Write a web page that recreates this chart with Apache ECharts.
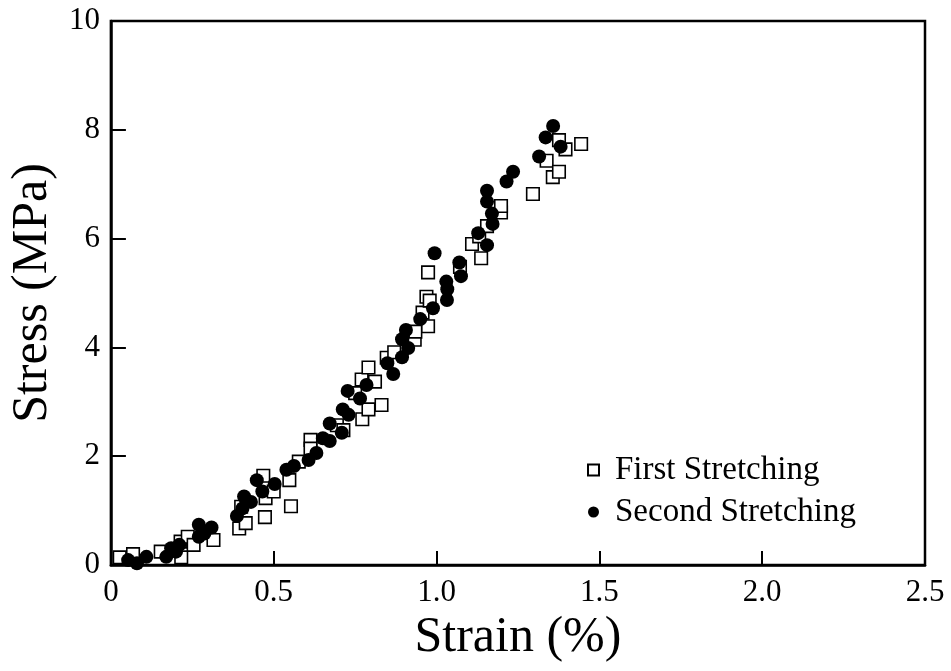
<!DOCTYPE html>
<html>
<head>
<meta charset="utf-8">
<script src="https://cdn.jsdelivr.net/npm/echarts@6/dist/echarts.min.js"></script>
<style>
  html, body { margin: 0; padding: 0; background: #fff; }
  #chart { width: 951px; height: 671px; }
</style>
</head>
<body>
<div id="chart"></div>
<script>
// Stress–strain points, [strain (%), stress (MPa)]
const firstStretching = [
  [0.027,0.14],[0.068,0.20],[0.153,0.245],[0.216,0.14],[0.214,0.43],[0.236,0.52],
  [0.254,0.37],[0.315,0.46],[0.394,0.67],[0.414,0.77],[0.400,1.07],[0.468,1.64],
  [0.473,0.88],[0.475,1.23],[0.500,1.35],[0.548,1.56],[0.553,1.08],[0.577,1.90],
  [0.613,2.30],[0.613,2.14],[0.694,2.57],[0.714,2.48],[0.750,3.16],[0.772,2.68],
  [0.770,3.41],[0.791,2.86],[0.791,3.63],[0.811,3.37],[0.831,2.94],[0.847,3.81],
  [0.870,3.91],[0.933,4.14],[0.935,4.29],[0.957,4.64],[0.969,4.93],[0.974,4.39],
  [0.974,5.38],[0.979,4.86],[1.072,5.48],[1.109,5.90],[1.131,6.04],[1.137,5.64],
  [1.155,6.23],[1.198,6.48],[1.198,6.60],[1.296,6.82],[1.338,7.43],[1.357,7.13],
  [1.376,7.23],[1.376,7.81],[1.396,7.64],[1.444,7.74]
];
const secondStretching = [
  [0.053,0.09],[0.080,0.03],[0.109,0.15],[0.170,0.15],[0.185,0.31],[0.200,0.245],
  [0.210,0.37],[0.270,0.74],[0.270,0.52],[0.287,0.58],[0.309,0.69],[0.387,0.90],
  [0.404,1.04],[0.409,1.26],[0.430,1.16],[0.448,1.56],[0.465,1.35],[0.503,1.49],
  [0.539,1.75],[0.562,1.82],[0.607,1.93],[0.631,2.06],[0.651,2.33],[0.672,2.60],
  [0.672,2.28],[0.709,2.43],[0.712,2.86],[0.727,3.20],[0.730,2.76],[0.765,3.06],
  [0.785,3.31],[0.849,3.71],[0.867,3.51],[0.894,3.82],[0.894,4.15],[0.906,4.32],
  [0.913,3.99],[0.950,4.52],[0.989,4.72],[0.994,5.73],[1.030,5.21],[1.033,5.07],
  [1.032,4.87],[1.070,5.56],[1.075,5.31],[1.128,6.10],[1.155,5.88],[1.172,6.27],
  [1.170,6.46],[1.155,6.68],[1.155,6.88],[1.215,7.05],[1.235,7.23],[1.315,7.51],
  [1.335,7.86],[1.358,8.07],[1.381,7.69]
];
const seriesNames = ['First Stretching', 'Second Stretching'];
const xTicks = { min: 0, max: 2.5, step: 0.5 };
const yTicks = { min: 0, max: 10, step: 2 };

const serif = '"Liberation Serif", "Times New Roman", serif';
const chart = echarts.init(document.getElementById('chart'));

chart.setOption({
  backgroundColor: '#fff',
  animation: false,
  textStyle: { fontFamily: serif, color: '#000' },
  grid: {
    left: 106, right: 26, top: 21, bottom: 106,
    show: true, borderColor: '#000', borderWidth: 2.5, backgroundColor: 'transparent'
  },
  legend: {
    orient: 'vertical',
    left: 582, top: 448,
    itemWidth: 11, itemHeight: 11,
    itemGap: 8,
    textStyle: { fontFamily: serif, fontSize: 33, color: '#000', lineHeight: 34, padding: [0, 0, 0, 11] },
    data: seriesNames
  },
  xAxis: {
    type: 'value',
    min: xTicks.min, max: xTicks.max, interval: xTicks.step,
    name: 'Strain (%)', nameLocation: 'middle', nameGap: 37,
    nameTextStyle: { fontFamily: serif, fontSize: 50, color: '#000', verticalAlign: 'top' },
    axisLine: { lineStyle: { color: '#000', width: 2.5 } },
    axisTick: { inside: true, length: 14, lineStyle: { color: '#000', width: 2 } },
    axisLabel: {
      fontFamily: serif, fontSize: 31, color: '#000', margin: 12,
      formatter: v => v === 0 ? '0' : v.toFixed(1)
    },
    splitLine: { show: false }
  },
  yAxis: {
    type: 'value',
    min: yTicks.min, max: yTicks.max, interval: yTicks.step,
    name: 'Stress (MPa)', nameLocation: 'middle', nameGap: 46,
    nameTextStyle: { fontFamily: serif, fontSize: 50, color: '#000' },
    axisLine: { lineStyle: { color: '#000', width: 2.5 } },
    axisTick: { inside: true, length: 15, lineStyle: { color: '#000', width: 2 } },
    axisLabel: { fontFamily: serif, fontSize: 31, color: '#000', margin: 11 },
    splitLine: { show: false }
  },
  series: [
    {
      name: seriesNames[0],
      type: 'scatter',
      symbol: 'rect',
      symbolSize: 12.5,
      itemStyle: { color: '#fff', borderColor: '#000', borderWidth: 1.6, opacity: 1 },
      data: firstStretching,
      z: 2
    },
    {
      name: seriesNames[1],
      type: 'scatter',
      symbol: 'circle',
      symbolSize: 14,
      itemStyle: { color: '#000', opacity: 1 },
      data: secondStretching,
      z: 3
    }
  ]
});
</script>
</body>
</html>
